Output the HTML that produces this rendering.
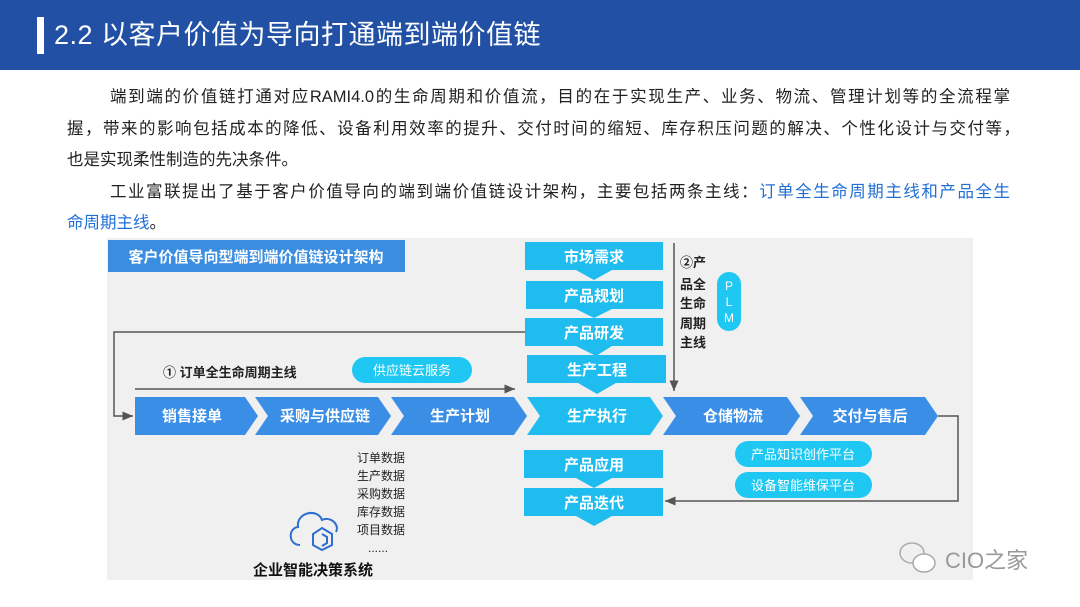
<!DOCTYPE html>
<html><head><meta charset="utf-8"><style>
body{margin:0;width:1080px;height:607px;background:#fff;position:relative;overflow:hidden;font-family:"Liberation Sans","Noto Sans CJK SC",sans-serif;}
.hd{position:absolute;left:0;top:0;width:1080px;height:70px;background:#2150a4;}
.bar{position:absolute;left:37px;top:17px;width:7px;height:37px;background:#fff;}
.tt{position:absolute;left:54px;top:15px;color:#fff;font-size:27px;line-height:40px;letter-spacing:0.5px;}
.l{position:absolute;font-size:16.5px;line-height:22px;color:#222;white-space:nowrap;}
.j{text-align:justify;text-align-last:justify;}
.bl{color:#1f6fd6;}
</style></head><body>
<div class="hd"></div><div class="bar"></div>
<div class="tt">2.2 以客户价值为导向打通端到端价值链</div>
<div class="l j" style="left:110px;top:86px;width:900px;">端到端的价值链打通对应RAMI4.0的生命周期和价值流，目的在于实现生产、业务、物流、管理计划等的全流程掌</div>
<div class="l j" style="left:67px;top:118px;width:953px;">握，带来的影响包括成本的降低、设备利用效率的提升、交付时间的缩短、库存积压问题的解决、个性化设计与交付等，</div>
<div class="l" style="left:67px;top:149px;">也是实现柔性制造的先决条件。</div>
<div class="l j" style="left:110px;top:181px;width:900px;">工业富联提出了基于客户价值导向的端到端价值链设计架构，主要包括两条主线：<span class="bl">订单全生命周期主线和产品全生</span></div>
<div class="l" style="left:67px;top:212px;"><span class="bl">命周期主线</span>。</div>
<svg style="position:absolute;left:0;top:0" width="1080" height="607" font-family="Liberation Sans, Noto Sans CJK SC, sans-serif">
<defs><marker id="a" markerWidth="8" markerHeight="8" refX="7" refY="4" orient="auto"><path d="M0,1 L7,4 L0,7z" fill="#555"/></marker></defs>
<rect x="107" y="238" width="866" height="342" fill="#f0f0f0"/>
<rect x="108" y="240" width="297" height="32" fill="#3b8de0"/>
<text x="256" y="262" fill="#fff" font-size="15" font-weight="bold" text-anchor="middle">客户价值导向型端到端价值链设计架构</text>
<g fill="#1fbcef">
<rect x="525" y="242" width="138" height="28"/><polygon points="576,270 612,270 594,280"/>
<rect x="526" y="281" width="137" height="28"/><polygon points="576,309 612,309 594,318"/>
<rect x="525" y="318" width="138" height="28"/><polygon points="576,346 612,346 596,356"/>
<rect x="527" y="355" width="139" height="28"/><polygon points="578,383 616,383 597,394"/>
<rect x="524" y="450" width="139" height="28"/><polygon points="576,478 612,478 594,488"/>
<rect x="524" y="488" width="139" height="28"/><polygon points="576,516 612,516 594,526"/>
</g>
<g fill="#fff" font-size="15" font-weight="bold" text-anchor="middle">
<text x="594" y="262">市场需求</text><text x="594" y="301">产品规划</text><text x="594" y="338">产品研发</text><text x="597" y="375">生产工程</text><text x="594" y="470">产品应用</text><text x="594" y="508">产品迭代</text>
</g>
<g fill="#3a8ee6">
<polygon points="135,397 245,397 258,416 245,435 135,435"/>
<polygon points="255,397 378,397 391,416 378,435 255,435 268,416"/>
<polygon points="391,397 514,397 527,416 514,435 391,435 404,416"/>
<polygon points="527,397 650,397 663,416 650,435 527,435 540,416" fill="#1fbcef"/>
<polygon points="663,397 787,397 800,416 787,435 663,435 676,416"/>
<polygon points="800,397 925,397 938,416 925,435 800,435 813,416"/>
</g>
<g fill="#fff" font-size="15" font-weight="bold" text-anchor="middle">
<text x="192" y="421">销售接单</text><text x="325" y="421">采购与供应链</text><text x="460" y="421">生产计划</text><text x="597" y="421">生产执行</text><text x="733" y="421">仓储物流</text><text x="870" y="421">交付与售后</text>
</g>
<g stroke="#555" stroke-width="1.5" fill="none">
<polyline points="525,332 114,332 114,416 133,416" marker-end="url(#a)"/>
<line x1="135" y1="389" x2="515" y2="389" marker-end="url(#a)"/>
<line x1="674" y1="243" x2="674" y2="391" marker-end="url(#a)"/>
<polyline points="938,416 958,416 958,501 665,501" marker-end="url(#a)"/>
</g>
<text x="163" y="377" font-size="13" font-weight="bold" fill="#222">①  订单全生命周期主线</text>
<rect x="352" y="357" width="120" height="26" rx="13" fill="#1ec8f2"/>
<text x="412" y="375" fill="#fff" font-size="13" text-anchor="middle">供应链云服务</text>
<g font-size="13" font-weight="bold" fill="#222"><text x="680" y="267">②产</text><text x="680" y="289">品全</text><text x="680" y="308">生命</text><text x="680" y="328">周期</text><text x="680" y="347">主线</text></g>
<rect x="717" y="272" width="24" height="59" rx="12" fill="#1ec8f2"/>
<g fill="#fff" font-size="12" text-anchor="middle"><text x="729" y="290">P</text><text x="729" y="306">L</text><text x="729" y="322">M</text></g>
<rect x="735" y="441" width="137" height="26" rx="13" fill="#1ec8f2"/>
<rect x="735" y="472" width="137" height="26" rx="13" fill="#1ec8f2"/>
<g fill="#fff" font-size="13" text-anchor="middle"><text x="803" y="459">产品知识创作平台</text><text x="803" y="490">设备智能维保平台</text></g>
<g font-size="12" fill="#222"><text x="357" y="462">订单数据</text><text x="357" y="480">生产数据</text><text x="357" y="498">采购数据</text><text x="357" y="516">库存数据</text><text x="357" y="534">项目数据</text><text x="368" y="552">......</text></g>
<path d="M300,545 C288,545 288,528 298,527 C296,512 318,508 322,520 C330,516 340,524 336,532" fill="none" stroke="#2d6fd0" stroke-width="2"/>
<path d="M322,528 L332,534 L332,545 L322,550 L313,545 L313,534z M322,534 L327,537 L327,543 L322,546" fill="none" stroke="#2d6fd0" stroke-width="2"/>
<text x="253" y="575" font-size="15" font-weight="bold" fill="#111">企业智能决策系统</text>
<g fill="none" stroke="#aaa" stroke-width="1.5"><ellipse cx="912" cy="553" rx="12" ry="10"/><ellipse cx="924" cy="563" rx="11" ry="9" fill="#fff"/></g>
<text x="945" y="568" font-size="22" fill="#999">CIO之家</text>
</svg>
</body></html>
